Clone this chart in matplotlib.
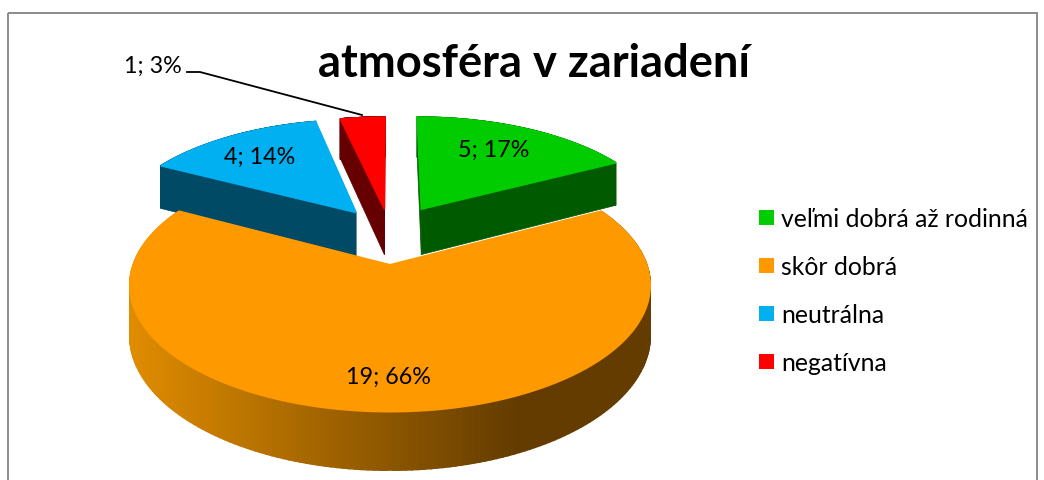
"""Atmosféra v zariadení: exploded 3D pie, projected by hand onto a pixel canvas."""
import numpy as np
import matplotlib
matplotlib.use("Agg")
import matplotlib.pyplot as plt
from matplotlib.patches import Polygon, Rectangle

categories = ["veľmi dobrá až rodinná", "skôr dobrá", "neutrálna", "negatívna"]
values = [5, 19, 4, 1]
explode = [0.255, 0.27, 0.235, 0.22]
title = "atmosféra v zariadení"

top_colors = ["#00CC00", "#FF9900", "#00B0F0", "#FF0000"]
side_colors = ["#005A00", None, "#004A66", "#660000"]
label_xy = [(494, 150), (388, 377), (260, 157), (153, 66)]

# projection (pixels)
X0, Y0 = 390, 233
FX, FY = 246, 113
PERSP = 0.155
DEPTH = 47

plt.rcParams["font.family"] = ["Lato", "DejaVu Sans"]


def project(theta, r, e, mid):
    """theta clockwise from the top, r in pie radii, e = explosion along mid."""
    u = r * np.sin(theta) + e * np.sin(mid)
    v = r * np.cos(theta) + e * np.cos(mid)
    w = 1 + PERSP * v
    return X0 + FX * u / w, Y0 - FY * v / w, DEPTH / w


def orange_shade(x):
    # side of the big slice fades from orange on the left to brown on the right
    t = np.clip((x - 130) / (515 - 130), 0, 1)
    a = np.array([0xE0, 0x8C, 0x00])
    b = np.array([0x64, 0x3C, 0x00])
    return tuple((a + (b - a) * t) / 255)


fig = plt.figure(figsize=(10.44, 4.8), dpi=100)
ax = fig.add_axes([0, 0, 1, 1])
ax.set_xlim(0, 1044)
ax.set_ylim(480, 0)
ax.axis("off")

ax.add_patch(Rectangle((7.5, 12.5), 1029, 480, fill=False, ec="#8C8C8C", lw=1.4))

fracs = np.array(values) / sum(values)
edges = np.concatenate([[0], np.cumsum(fracs)]) * 2 * np.pi
# painter's order: back slices first, the big front slice last
for i in [3, 2, 0, 1]:
    a0, a1 = edges[i], edges[i + 1]
    mid = (a0 + a1) / 2
    e = explode[i]
    th = np.linspace(a0, a1, 200)
    x, y, d = project(th, 1.0, e, mid)
    tx, ty, td = project(mid, 0.0, e, mid)

    if side_colors[i] is not None:
        for ex, ey, ed in [(x[0], y[0], d[0]), (x[-1], y[-1], d[-1])]:
            ax.add_patch(Polygon([(tx, ty), (ex, ey), (ex, ey + ed), (tx, ty + td)],
                                 fc=side_colors[i], ec=side_colors[i], lw=0.5))
    for j in range(len(th) - 1):
        c = side_colors[i] or orange_shade((x[j] + x[j + 1]) / 2)
        ax.add_patch(Polygon([(x[j], y[j]), (x[j + 1], y[j + 1]),
                              (x[j + 1], y[j + 1] + d[j + 1]), (x[j], y[j] + d[j])],
                             fc=c, ec=c, lw=1.2))
    pts = [(tx, ty)] + list(zip(x, y))
    ax.add_patch(Polygon(pts, fc=top_colors[i], ec=top_colors[i], lw=1.2))

for v, f, (lx, ly) in zip(values, fracs, label_xy):
    ax.text(lx, ly, f"{v}; {round(f * 100)}%", ha="center", va="center",
            fontsize=16.8, color="black")

# leader line of the small slice
ax.plot([187, 200, 362], [72, 72, 115], color="black", lw=1.3)

ax.text(534, 64, title, ha="center", va="center", fontsize=32.7, fontweight="bold")

for k, (name, col) in enumerate(zip(categories, top_colors)):
    yy = 218 + k * 48
    ax.add_patch(Rectangle((759, yy - 8), 15, 15, fc=col, ec="none"))
    ax.text(781, yy + 1.5, name, ha="left", va="center", fontsize=17.8, color="black")

fig.savefig("out.png", dpi=100)
